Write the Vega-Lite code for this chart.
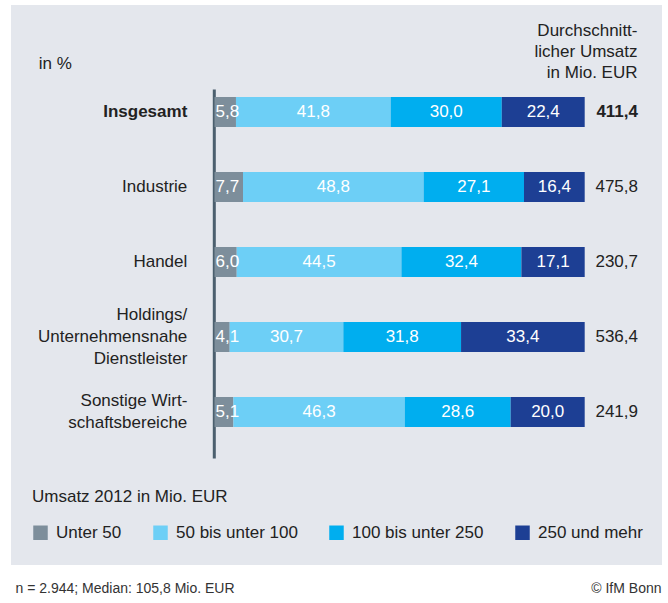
{
  "$schema": "https://vega.github.io/schema/vega-lite/v6.json",
  "width": 651,
  "height": 560,
  "autosize": {"type": "none"},
  "padding": {"left": 11, "top": 5, "right": 6, "bottom": 38},
  "background": "#ffffff",
  "config": {
    "view": {"stroke": null, "fill": "#e4e7ed"},
    "font": "Liberation Sans",
    "locale": {"number": {"decimal": ",", "thousands": ".", "grouping": [3], "currency": ["", " €"]}},
    "axis": {"grid": false}
  },
  "datasets": {
    "seg": [
      {"cat": "Insgesamt", "seg": "Unter 50", "k": 1, "v": 5.8},
      {"cat": "Insgesamt", "seg": "50 bis unter 100", "k": 2, "v": 41.8},
      {"cat": "Insgesamt", "seg": "100 bis unter 250", "k": 3, "v": 30.0},
      {"cat": "Insgesamt", "seg": "250 und mehr", "k": 4, "v": 22.4},
      {"cat": "Industrie", "seg": "Unter 50", "k": 1, "v": 7.7},
      {"cat": "Industrie", "seg": "50 bis unter 100", "k": 2, "v": 48.8},
      {"cat": "Industrie", "seg": "100 bis unter 250", "k": 3, "v": 27.1},
      {"cat": "Industrie", "seg": "250 und mehr", "k": 4, "v": 16.4},
      {"cat": "Handel", "seg": "Unter 50", "k": 1, "v": 6.0},
      {"cat": "Handel", "seg": "50 bis unter 100", "k": 2, "v": 44.5},
      {"cat": "Handel", "seg": "100 bis unter 250", "k": 3, "v": 32.4},
      {"cat": "Handel", "seg": "250 und mehr", "k": 4, "v": 17.1},
      {"cat": "Holdings/|Unternehmensnahe|Dienstleister", "seg": "Unter 50", "k": 1, "v": 4.1},
      {"cat": "Holdings/|Unternehmensnahe|Dienstleister", "seg": "50 bis unter 100", "k": 2, "v": 30.7},
      {"cat": "Holdings/|Unternehmensnahe|Dienstleister", "seg": "100 bis unter 250", "k": 3, "v": 31.8},
      {"cat": "Holdings/|Unternehmensnahe|Dienstleister", "seg": "250 und mehr", "k": 4, "v": 33.4},
      {"cat": "Sonstige Wirt-|schaftsbereiche", "seg": "Unter 50", "k": 1, "v": 5.1},
      {"cat": "Sonstige Wirt-|schaftsbereiche", "seg": "50 bis unter 100", "k": 2, "v": 46.3},
      {"cat": "Sonstige Wirt-|schaftsbereiche", "seg": "100 bis unter 250", "k": 3, "v": 28.6},
      {"cat": "Sonstige Wirt-|schaftsbereiche", "seg": "250 und mehr", "k": 4, "v": 20.0}
    ],
    "tot": [
      {"cat": "Insgesamt", "avg": 411.4},
      {"cat": "Industrie", "avg": 475.8},
      {"cat": "Handel", "avg": 230.7},
      {"cat": "Holdings/|Unternehmensnahe|Dienstleister", "avg": 536.4},
      {"cat": "Sonstige Wirt-|schaftsbereiche", "avg": 241.9}
    ]
  },
  "resolve": {"axis": {"x": "independent", "y": "independent"}},
  "layer": [
    {
      "data": {"name": "seg"},
      "mark": {"type": "bar"},
      "encoding": {
        "x": {
          "field": "v", "type": "quantitative", "stack": "zero",
          "scale": {"domain": [-54.97, 120.88], "nice": false, "zero": false},
          "axis": {
            "orient": "bottom", "domain": false, "ticks": false, "labels": false, "grid": false,
            "title": "n = 2.944; Median: 105,8 Mio. EUR",
            "titleX": 4, "titleY": 23, "titleAlign": "left", "titleAnchor": null, "titleBaseline": "middle",
            "titleFontSize": 14, "titleFontWeight": "normal", "titleColor": "#333333"
          }
        },
        "y": {
          "field": "cat", "type": "nominal",
          "sort": ["Insgesamt", "Industrie", "Handel", "Holdings/|Unternehmensnahe|Dienstleister", "Sonstige Wirt-|schaftsbereiche"],
          "scale": {"range": [84, 453], "paddingInner": 0.6, "paddingOuter": 0.26, "align": 0.205},
          "axis": {
            "orient": "left", "offset": -202.8, "zindex": 0,
            "domain": true, "domainColor": "#4b5f6e", "domainWidth": 3,
            "ticks": false, "tickSize": 0, "labelPadding": 27,
            "labelExpr": "split(datum.value, '|')",
            "labelFontSize": 17, "labelColor": "#222222", "labelLineHeight": 22, "labelLimit": 300,
            "labelFontWeight": {"condition": {"test": "datum.value == 'Insgesamt'", "value": "bold"}, "value": "normal"},
            "labelOffset": {"condition": [
              {"test": "indexof(datum.value, 'Holdings') == 0", "value": -22},
              {"test": "indexof(datum.value, 'Sonstige') == 0", "value": -11}
            ], "value": 0},
            "title": "in %", "titleAngle": 0, "titleX": -175.5, "titleY": 58, "titleAlign": "left",
            "titleBaseline": "middle", "titleFontSize": 17, "titleFontWeight": "normal", "titleColor": "#222222"
          }
        },
        "color": {
          "field": "seg", "type": "nominal",
          "scale": {
            "domain": ["Unter 50", "50 bis unter 100", "100 bis unter 250", "250 und mehr"],
            "range": ["#7d8e9b", "#6dcff6", "#00aeef", "#1d3f94"]
          },
          "legend": {
            "orient": "none", "legendX": 21, "legendY": 484, "direction": "horizontal", "columns": 4,
            "title": "Umsatz 2012 in Mio. EUR", "titleFontSize": 17, "titleFontWeight": "normal",
            "titleColor": "#222222", "titlePadding": 18, "titleAnchor": "start", "titleLimit": 400,
            "labelFontSize": 17, "labelColor": "#222222", "labelOffset": 7, "labelLimit": 300,
            "symbolType": "square", "symbolSize": 210, "symbolStrokeWidth": 0, "symbolOpacity": 1,
            "columnPadding": 30, "padding": 0
          }
        },
        "order": {"field": "k", "type": "quantitative"}
      }
    },
    {
      "data": {"name": "seg"},
      "mark": {"type": "text", "color": "#ffffff", "fontSize": 17, "align": "center", "baseline": "middle"},
      "encoding": {
        "x": {
          "field": "v", "type": "quantitative", "stack": "zero", "bandPosition": 0.5,
          "axis": {
            "orient": "top", "domain": false, "ticks": false, "labels": false, "grid": false,
            "title": ["Durchschnitt-", "licher Umsatz", "in Mio. EUR"],
            "titleX": 626, "titleY": 25, "titleAlign": "right", "titleAnchor": null, "titleBaseline": "middle",
            "titleLineHeight": 21, "titleFontSize": 17, "titleFontWeight": "normal", "titleColor": "#222222"
          }
        },
        "y": {
          "field": "cat", "type": "nominal", "axis": null,
          "sort": ["Insgesamt", "Industrie", "Handel", "Holdings/|Unternehmensnahe|Dienstleister", "Sonstige Wirt-|schaftsbereiche"]
        },
        "detail": {"field": "seg"},
        "order": {"field": "k", "type": "quantitative"},
        "text": {"field": "v", "type": "quantitative", "format": ".1f"},
        "opacity": {"condition": {"test": "datum.k == 1", "value": 0}, "value": 1}
      }
    },
    {
      "data": {"name": "seg"},
      "transform": [{"filter": "datum.k == 1"}],
      "mark": {"type": "text", "color": "#ffffff", "fontSize": 17, "align": "left", "baseline": "middle", "dx": 1},
      "encoding": {
        "x": {"datum": 0, "type": "quantitative", "axis": null},
        "y": {
          "field": "cat", "type": "nominal", "axis": null,
          "sort": ["Insgesamt", "Industrie", "Handel", "Holdings/|Unternehmensnahe|Dienstleister", "Sonstige Wirt-|schaftsbereiche"]
        },
        "text": {"field": "v", "type": "quantitative", "format": ".1f"}
      }
    },
    {
      "data": {"name": "tot"},
      "transform": [{"filter": "datum.cat != 'Insgesamt'"}],
      "mark": {"type": "text", "color": "#222222", "fontSize": 17, "align": "right", "baseline": "middle"},
      "encoding": {
        "x": {"datum": 114.4, "type": "quantitative", "axis": null},
        "y": {
          "field": "cat", "type": "nominal",
          "sort": ["Insgesamt", "Industrie", "Handel", "Holdings/|Unternehmensnahe|Dienstleister", "Sonstige Wirt-|schaftsbereiche"],
          "axis": {
            "orient": "right", "domain": false, "ticks": false, "labels": false,
            "title": "© IfM Bonn", "titleAngle": 0, "titleX": -1, "titleY": 583, "titleAlign": "right",
            "titleAnchor": null, "titleBaseline": "middle", "titleFontSize": 14, "titleFontWeight": "normal",
            "titleColor": "#333333"
          }
        },
        "text": {"field": "avg", "type": "quantitative", "format": ".1f"}
      }
    },
    {
      "data": {"name": "tot"},
      "transform": [{"filter": "datum.cat == 'Insgesamt'"}],
      "mark": {"type": "text", "color": "#222222", "fontSize": 17, "fontWeight": "bold", "align": "right", "baseline": "middle"},
      "encoding": {
        "x": {"datum": 114.4, "type": "quantitative", "axis": null},
        "y": {
          "field": "cat", "type": "nominal", "axis": null,
          "sort": ["Insgesamt", "Industrie", "Handel", "Holdings/|Unternehmensnahe|Dienstleister", "Sonstige Wirt-|schaftsbereiche"]
        },
        "text": {"field": "avg", "type": "quantitative", "format": ".1f"}
      }
    }
  ]
}
